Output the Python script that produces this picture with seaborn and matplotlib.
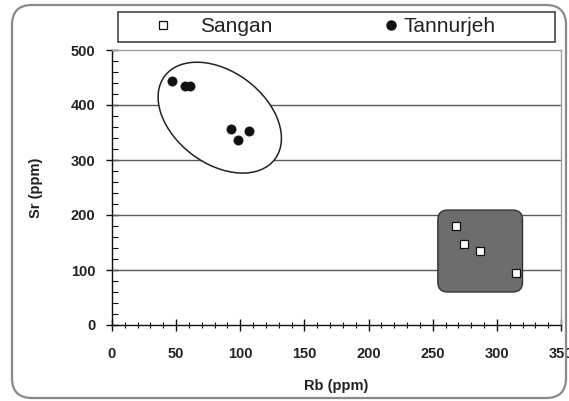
import matplotlib
matplotlib.use("Agg")
import matplotlib.pyplot as plt
import seaborn as sns
import pandas as pd
from matplotlib.patches import Ellipse, FancyBboxPatch, Rectangle
from matplotlib.transforms import ScaledTranslation
from matplotlib.ticker import MultipleLocator
from matplotlib.lines import Line2D

# ---- data ----
sangan_rb = [268, 274, 287, 315]
sangan_sr = [180, 148, 134, 94]
tann_rb = [47, 57, 61, 92.5, 98.4, 106.8]
tann_sr = [444, 434.5, 434.5, 356, 336, 353]
x_ticks = [0, 50, 100, 150, 200, 250, 300, 350]
y_ticks = [0, 100, 200, 300, 400, 500]

df = pd.DataFrame({
    "Rb": sangan_rb + tann_rb,
    "Sr": sangan_sr + tann_sr,
    "group": ["Sangan"] * len(sangan_rb) + ["Tannurjeh"] * len(tann_rb),
})

sns.set_theme(style="white")
plt.rcParams["font.family"] = ["Liberation Sans", "DejaVu Sans"]

W, H = 569, 401
fig = plt.figure(figsize=(W / 100, H / 100), dpi=100)
ax = fig.add_axes([112 / W, 1 - 325 / H, (561 - 112) / W, (325 - 50) / H])

ax.set_xlim(0, 350)
ax.set_ylim(0, 500)

# horizontal gridlines
for yv in y_ticks[1:-1]:
    ax.axhline(yv, color="#5a5a5a", lw=1.0, zorder=1)

# shaded rounded box around Sangan
box = FancyBboxPatch((254, 60), 66, 149,
                     boxstyle="round,pad=0,rounding_size=7.5",
                     mutation_aspect=2.35,
                     facecolor="#6d6d6d", edgecolor="#333333", lw=1.0, zorder=2)
ax.add_patch(box)

# ellipse around Tannurjeh (drawn in inches around a data centre)
ell = Ellipse((0, 0), width=1.38, height=0.92, angle=-37,
              transform=fig.dpi_scale_trans + ScaledTranslation(84, 377, ax.transData),
              facecolor="white", edgecolor="#222222", lw=1.1, zorder=2)
ax.add_patch(ell)

sub_s = df[df.group == "Sangan"]
sub_t = df[df.group == "Tannurjeh"]
sns.scatterplot(data=sub_s, x="Rb", y="Sr", marker="s", s=28, color="white",
                edgecolor="#111111", linewidth=0.9, ax=ax, zorder=4, legend=False)
sns.scatterplot(data=sub_t, x="Rb", y="Sr", marker="o", s=44, color="#111111",
                edgecolor="#111111", linewidth=0.5, ax=ax, zorder=4, legend=False)

# spines
for side in ["top", "right"]:
    ax.spines[side].set_color("#a0a0a0")
    ax.spines[side].set_linewidth(1.0)
for side in ["left", "bottom"]:
    ax.spines[side].set_color("#111111")
    ax.spines[side].set_linewidth(1.0)

ax.set_xticks(x_ticks)
ax.set_yticks(y_ticks)
ax.set_xticklabels([str(v) for v in x_ticks])
ax.set_yticklabels([str(v) for v in y_ticks])
ax.xaxis.set_minor_locator(MultipleLocator(10))
ax.yaxis.set_minor_locator(MultipleLocator(20))
ax.tick_params(axis="x", which="major", direction="inout", length=8, width=1,
               color="#111111", pad=12, labelsize=10.5, labelcolor="#222222",
               bottom=True, top=False)
ax.tick_params(axis="x", which="minor", direction="inout", length=4, width=0.8,
               color="#111111", bottom=True, top=False)
ax.tick_params(axis="y", which="major", direction="inout", length=8, width=1,
               color="#111111", pad=8, labelsize=10.5, labelcolor="#222222",
               left=True, right=False)
ax.tick_params(axis="y", which="minor", direction="in", length=4, width=0.8,
               color="#111111", left=True, right=False)
for lab in ax.get_xticklabels() + ax.get_yticklabels():
    lab.set_fontweight("bold")

ax.set_xlabel("Rb (ppm)", fontsize=10.5, fontweight="bold", color="#222222", labelpad=13)
ax.set_ylabel("Sr (ppm)", fontsize=10.5, fontweight="bold", color="#222222", labelpad=20)

# legend box
fig.patches.append(Rectangle((118 / W, 1 - 42 / H), (555 - 118) / W, 30 / H,
                             transform=fig.transFigure, facecolor="white",
                             edgecolor="#444444", lw=1.2, zorder=3))

h_s = Line2D([], [], marker="s", linestyle="none", markersize=5.5,
             markerfacecolor="white", markeredgecolor="#111111", markeredgewidth=0.9)
h_t = Line2D([], [], marker="o", linestyle="none", markersize=6.5,
             markerfacecolor="#111111", markeredgecolor="#111111")
leg1 = fig.legend([h_s], ["Sangan"], loc="center left",
                  bbox_to_anchor=(154 / W, 1 - 27 / H), frameon=False,
                  fontsize=15, handlelength=0.9, handletextpad=1.3, borderpad=0,
                  borderaxespad=0)
leg2 = fig.legend([h_t], ["Tannurjeh"], loc="center left",
                  bbox_to_anchor=(382 / W, 1 - 27 / H), frameon=False,
                  fontsize=15, handlelength=0.9, handletextpad=0.15, borderpad=0,
                  borderaxespad=0)
for leg in (leg1, leg2):
    leg.set_zorder(5)
    for t in leg.get_texts():
        t.set_color("#222222")

# outer chart border
fig.patches.append(FancyBboxPatch((12 / W, 1 - 398 / H), (566 - 12) / W, (398 - 5) / H,
                                  boxstyle="round,pad=0,rounding_size=0.035",
                                  mutation_aspect=W / H,
                                  transform=fig.transFigure, facecolor="none",
                                  edgecolor="#8a8a8a", lw=1.6, zorder=0))

fig.savefig("out.png", dpi=100)
